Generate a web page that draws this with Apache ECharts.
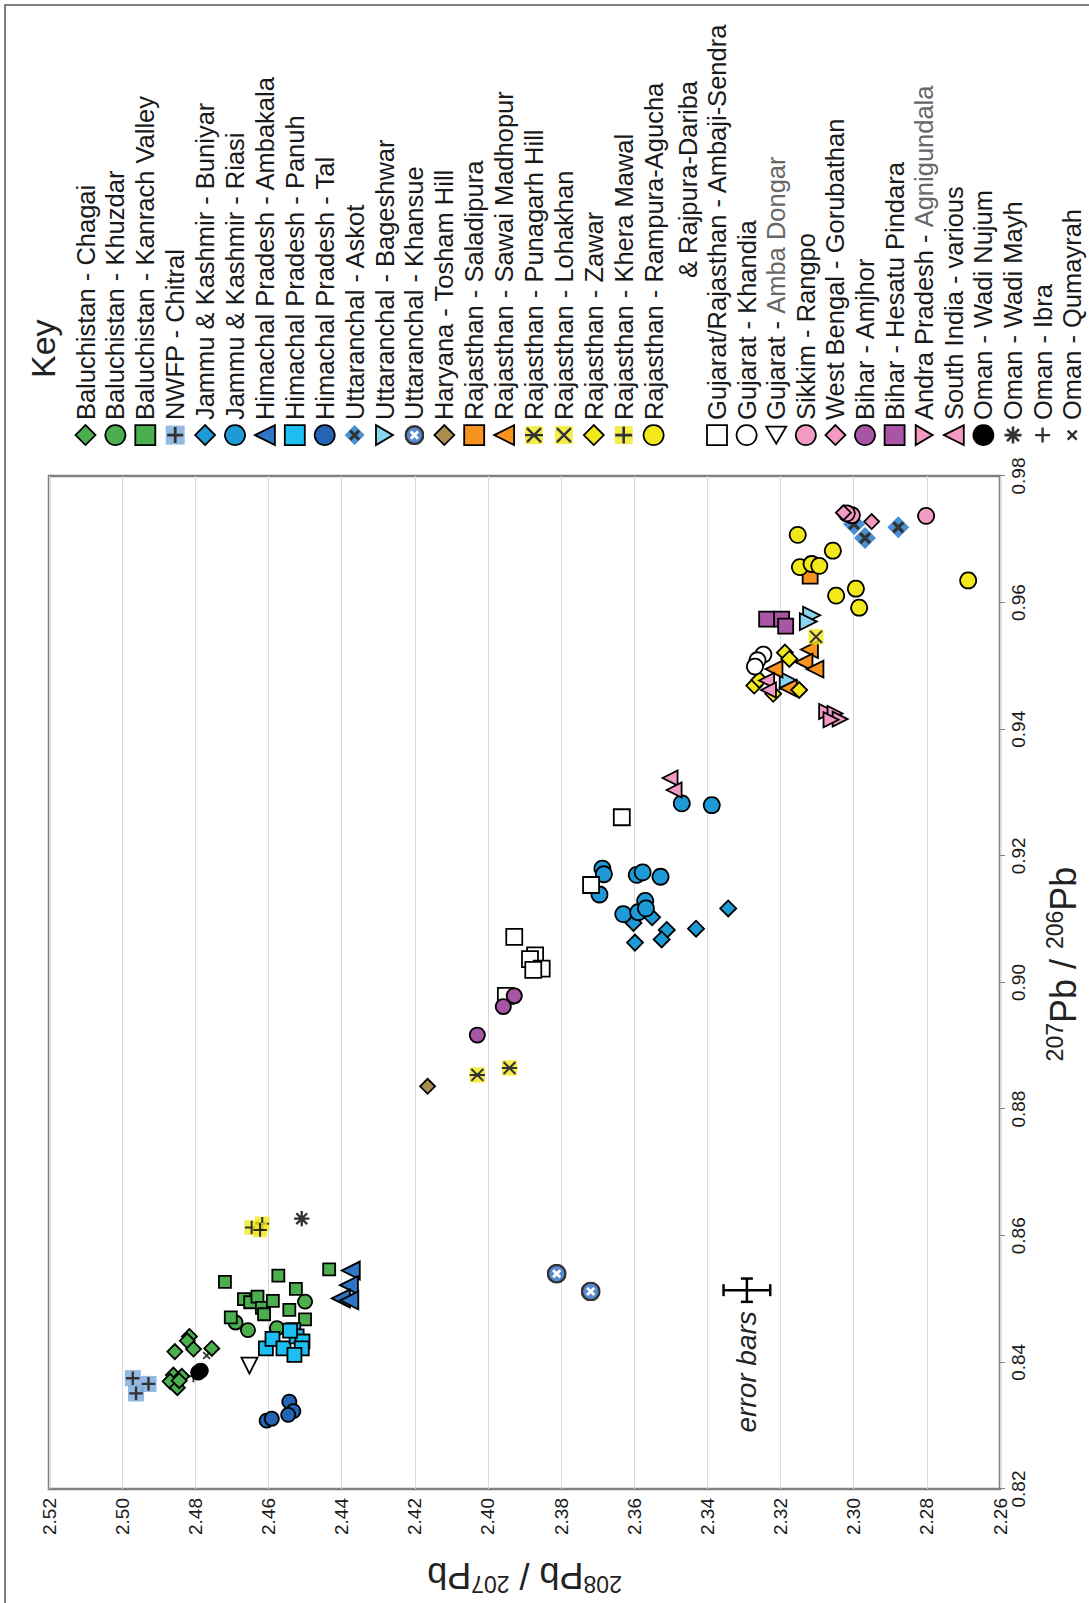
<!DOCTYPE html>
<html><head><meta charset="utf-8">
<script src="https://cdn.jsdelivr.net/npm/echarts@6/dist/echarts.min.js"></script>
<style>
html,body{margin:0;padding:0;background:#fff;overflow:hidden;width:1089px;height:1603px;}
#chart{position:absolute;left:0;top:0;width:1603px;height:1089px;transform-origin:0 0;transform:translateY(1603px) rotate(-90deg);background:#fff;}
</style></head>
<body><div id="chart"></div>
<script>
// ---- DATA: [207Pb/206Pb, 208Pb/207Pb] ----
const chagai = [[0.8441,2.4816],[0.8434,2.4822],[0.8417,2.4856],[0.8421,2.4805],[0.8422,2.4755],[0.8380,2.4860],[0.8378,2.4837],[0.8370,2.4869],[0.8360,2.4849],[0.8371,2.4844]];
const khuzdar = [[0.8496,2.4500],[0.8463,2.4690],[0.8451,2.4656],[0.8454,2.4577]];
const kanrach = [[0.8527,2.4719],[0.8537,2.4573],[0.8547,2.4434],[0.8516,2.4525],[0.8500,2.4667],[0.8495,2.4650],[0.8504,2.4630],[0.8486,2.4618],[0.8497,2.4588],[0.8483,2.4543],[0.8476,2.4612],[0.8468,2.4500],[0.8471,2.4703]];
const chitral = [[0.8375,2.4971],[0.8366,2.4928],[0.8351,2.4962]];
const buniyar = [[0.9094,2.3602],[0.9103,2.3551],[0.9083,2.3511],[0.9068,2.3525],[0.9063,2.3598],[0.9085,2.3431],[0.9117,2.3343]];
const riasi = [[0.9283,2.3470],[0.9280,2.3388],[0.9180,2.3687],[0.9171,2.3683],[0.9139,2.3695],[0.9170,2.3593],[0.9174,2.3577],[0.9167,2.3528],[0.9108,2.3630],[0.9111,2.3589],[0.9129,2.3570],[0.9117,2.3568]];
const ambakala = [[0.8545,2.4375],[0.8522,2.4380],[0.8501,2.4402],[0.8498,2.4379]];
const panuh = [[0.8422,2.4607],[0.8437,2.4589],[0.8422,2.4559],[0.8451,2.4532],[0.8441,2.4523],[0.8433,2.4507],[0.8422,2.4509],[0.8412,2.4529],[0.8450,2.4541]];
const tal = [[0.8338,2.4543],[0.8323,2.4532],[0.8317,2.4546],[0.8308,2.4605],[0.8311,2.4591]];
const askot = [[0.9724,2.2999],[0.9702,2.2969],[0.9719,2.2878]];
const bageshwar = [[0.9580,2.3115],[0.9570,2.3124],[0.9477,2.3179]];
const khansue = [[0.8540,2.3812],[0.8512,2.3719]];
const tosham = [[0.8836,2.4165]];
const saladipura = [[0.9642,2.3119]];
const sawai = [[0.9526,2.3121],[0.9506,2.3136],[0.9495,2.3106],[0.9495,2.3218],[0.9465,2.3179]];
const punagarh = [[0.8854,2.4029],[0.8865,2.3941]];
const lohakhan = [[0.9546,2.3103]];
const zawar = [[0.9521,2.3188],[0.9511,2.3176],[0.9469,2.3272],[0.9462,2.3149],[0.9456,2.3220],[0.9478,2.3258]];
const khera = [[0.8613,2.4646],[0.8619,2.4617],[0.8609,2.4623]];
const rampura = [[0.9707,2.3153],[0.9682,2.3057],[0.9656,2.3147],[0.9661,2.3115],[0.9658,2.3094],[0.9611,2.3048],[0.9622,2.2994],[0.9592,2.2985],[0.9635,2.2687]];
const ambaji = [[0.9261,2.3634],[0.9154,2.3718],[0.9072,2.3928],[0.9043,2.3871],[0.9037,2.3885],[0.9022,2.3853],[0.9020,2.3876],[0.8979,2.3951]];
const khandia = [[0.9518,2.3247],[0.9509,2.3263],[0.9499,2.3270]];
const ambaDongar = [[0.8395,2.4652]];
const rangpo = [[0.9738,2.3005],[0.9737,2.2802],[0.9741,2.3019]];
const gorubathan = [[0.9742,2.3028],[0.9728,2.2951]];
const amjhor = [[0.8979,2.3928],[0.8962,2.3958],[0.8917,2.4029]];
const hesatu = [[0.9574,2.3238],[0.9574,2.3197],[0.9563,2.3186]];
const agnigundala = [[0.9428,2.3074],[0.9425,2.3051],[0.9416,2.3037],[0.9415,2.3062]];
const southIndia = [[0.9323,2.3502],[0.9304,2.3491],[0.9477,2.3238],[0.9462,2.3233]];
const wadiNujum = [[0.8387,2.4785],[0.8384,2.4792]];
const wadiMayh = [[0.8627,2.4509]];
const ibra = [[0.8378,2.4805]];
const qumayrah = [[0.8411,2.4769]];
// error bar: [x, y, x-error, y-error]
const errorBars = [[0.8514,2.3292,0.00184,0.00638]];
const xTicks = {min:0.82, max:0.98, step:0.02};
const yTicks = {min:2.26, max:2.52, step:0.02};

// ---- STYLE ----
const FONT = '"Liberation Sans", Arial, Helvetica, sans-serif';
function img(inner){
  return 'image://data:image/svg+xml;charset=utf-8,' + encodeURIComponent('<svg xmlns="http://www.w3.org/2000/svg" width="40" height="40" viewBox="0 0 20 20">' + inner + '</svg>');
}
const DOWN = 'path://M0,0L20,0L10,17Z';
const LEFT = 'path://M0,10L17,0L17,20Z';
const GREEN='#4bae4f', BLUE='#1e9ad6', ORANGE='#f7931e', YELLOW='#f2e81c', PINK='#f39ac4', PURPLE='#a855a6';
const S_CHITRAL = img('<rect x="0.5" y="0.5" width="19" height="19" fill="#7aa9dc"/><path d="M10,2V18M2,10H18" stroke="#000" stroke-width="2.8"/>');
const S_ASKOT = img('<path d="M10,0L20,10L10,20L0,10Z" fill="#1a75c7"/><path d="M5.5,5.5L14.5,14.5M14.5,5.5L5.5,14.5" stroke="#000" stroke-width="3"/>');
const S_KHANSUE = img('<circle cx="10" cy="10" r="8.8" fill="#2f6ec2" stroke="#000" stroke-width="2.4"/><path d="M6.4,6.4L13.6,13.6M13.6,6.4L6.4,13.6" stroke="#fff" stroke-width="2.8"/>');
const S_PUNAGARH = img('<rect x="1" y="1" width="18" height="18" fill="' + YELLOW + '"/><path d="M3,3L17,17M17,3L3,17M10,1V19" stroke="#000" stroke-width="2.4"/>');
const S_LOHAKHAN = img('<rect x="1" y="1" width="18" height="18" fill="' + YELLOW + '"/><path d="M3,3L17,17M17,3L3,17" stroke="#000" stroke-width="2.4"/>');
const S_KHERA = img('<rect x="1" y="1" width="18" height="18" fill="' + YELLOW + '"/><path d="M10,1.5V18.5M1.5,10H18.5" stroke="#000" stroke-width="2.6"/>');
const S_MAYH = img('<path d="M4,4L16,16M16,4L4,16M10,1.5V18.5M1.5,10H18.5" stroke="#000" stroke-width="2.6"/>');
const S_IBRA = img('<path d="M10,2.5V17.5M2.5,10H17.5" stroke="#000" stroke-width="2.4"/>');
const S_QUM = img('<path d="M5.5,5.5L14.5,14.5M14.5,5.5L5.5,14.5" stroke="#000" stroke-width="2.4"/>');

const sites = [
  {name:'Baluchistan - Chagai', data:chagai, symbol:'diamond', size:15, color:GREEN},
  {name:'Baluchistan - Khuzdar', data:khuzdar, symbol:'circle', size:14, color:GREEN},
  {name:'Baluchistan - Kanrach Valley', data:kanrach, symbol:'rect', size:12, color:GREEN},
  {name:'NWFP - Chitral', data:chitral, symbol:S_CHITRAL, size:17, color:'#7aa9dc', img:true},
  {name:'Jammu & Kashmir - Buniyar', data:buniyar, symbol:'diamond', size:16, color:BLUE},
  {name:'Jammu & Kashmir - Riasi', data:riasi, symbol:'circle', size:16, color:BLUE},
  {name:'Himachal Pradesh - Ambakala', data:ambakala, symbol:'triangle', size:18, color:'#2f75c5'},
  {name:'Himachal Pradesh - Panuh', data:panuh, symbol:'rect', size:14, color:'#1dbff0'},
  {name:'Himachal Pradesh - Tal', data:tal, symbol:'circle', size:14, color:'#2464b4'},
  {name:'Uttaranchal - Askot', data:askot, symbol:S_ASKOT, size:22, color:'#1a75c7', img:true},
  {name:'Uttaranchal - Bageshwar', data:bageshwar, symbol:DOWN, size:17, color:'#8bd4f0'},
  {name:'Uttaranchal - Khansue', data:khansue, symbol:S_KHANSUE, size:20, color:'#2f6ec2', img:true},
  {name:'Haryana - Tosham Hill', data:tosham, symbol:'diamond', size:15, color:'#ab8d52'},
  {name:'Rajasthan - Saladipura', data:saladipura, symbol:'rect', size:15, color:ORANGE},
  {name:'Rajasthan - Sawai Madhopur', data:sawai, symbol:'triangle', size:17, color:ORANGE},
  {name:'Rajasthan - Punagarh Hill', data:punagarh, symbol:S_PUNAGARH, size:17, color:YELLOW, img:true},
  {name:'Rajasthan - Lohakhan', data:lohakhan, symbol:S_LOHAKHAN, size:17, color:YELLOW, img:true},
  {name:'Rajasthan - Zawar', data:zawar, symbol:'diamond', size:16, color:YELLOW},
  {name:'Rajasthan - Khera Mawal', data:khera, symbol:S_KHERA, size:16, color:YELLOW, img:true},
  {name:'Rajasthan - Rampura-Agucha', data:rampura, symbol:'circle', size:16, color:YELLOW},
  {name:'Gujarat/Rajasthan - Ambaji-Sendra', data:ambaji, symbol:'rect', size:16, color:'#ffffff'},
  {name:'Gujarat - Khandia', data:khandia, symbol:'circle', size:16, color:'#ffffff'},
  {name:'Gujarat - Amba Dongar', data:ambaDongar, symbol:LEFT, size:16, color:'#ffffff'},
  {name:'Sikkim - Rangpo', data:rangpo, symbol:'circle', size:16, color:PINK},
  {name:'West Bengal - Gorubathan', data:gorubathan, symbol:'diamond', size:15, color:PINK},
  {name:'Bihar - Amjhor', data:amjhor, symbol:'circle', size:15, color:PURPLE},
  {name:'Bihar - Hesatu Pindara', data:hesatu, symbol:'rect', size:15, color:PURPLE},
  {name:'Andra Pradesh - Agnigundala', data:agnigundala, symbol:DOWN, size:15, color:PINK},
  {name:'South India - various', data:southIndia, symbol:'triangle', size:15, color:PINK},
  {name:'Oman - Wadi Nujum', data:wadiNujum, symbol:'circle', size:14, color:'#000000'},
  {name:'Oman - Wadi Mayh', data:wadiMayh, symbol:S_MAYH, size:18, color:'#000000', img:true},
  {name:'Oman - Ibra', data:ibra, symbol:S_IBRA, size:16, color:'#000000', img:true},
  {name:'Oman - Qumayrah', data:qumayrah, symbol:S_QUM, size:15, color:'#000000', img:true}
];

const series = sites.map(s => ({
  name: s.name, type:'scatter', data: s.data, symbol: s.symbol, symbolSize: s.size,
  itemStyle: s.img ? {color: s.color, borderWidth:0} : {color: s.color, borderColor:'#000', borderWidth:1.8, opacity:1},
  emphasis:{disabled:true}, z: 3
}));
series.push({
  name:'error bars', type:'custom', data: errorBars, silent:true, z:4,
  renderItem: function(params, api){
    const x = api.value(0), y = api.value(1), ex = api.value(2), ey = api.value(3);
    const c = api.coord([x, y]);
    const xl = api.coord([x - ex, y])[0], xr = api.coord([x + ex, y])[0];
    const yt = api.coord([x, y + ey])[1], yb = api.coord([x, y - ey])[1];
    const cap = 6;
    const st = {stroke:'#000', lineWidth:2.5, fill:null};
    return {type:'group', children:[
      {type:'line', shape:{x1:xl,y1:c[1],x2:xr,y2:c[1]}, style:st},
      {type:'line', shape:{x1:xl,y1:c[1]-cap,x2:xl,y2:c[1]+cap}, style:st},
      {type:'line', shape:{x1:xr,y1:c[1]-cap,x2:xr,y2:c[1]+cap}, style:st},
      {type:'line', shape:{x1:c[0],y1:yt,x2:c[0],y2:yb}, style:st},
      {type:'line', shape:{x1:c[0]-cap,y1:yt,x2:c[0]+cap,y2:yt}, style:st},
      {type:'line', shape:{x1:c[0]-cap,y1:yb,x2:c[0]+cap,y2:yb}, style:st},
      {type:'text', x:c[0]-21, y:c[1], style:{text:'error bars', fontSize:28, fontStyle:'italic', fontFamily:FONT, fill:'#222', align:'right', verticalAlign:'middle'}}
    ]};
  }
});

const legendNames = sites.map(s => ({name: s.name, icon: s.symbol}));
const richLegend = {
  a:{fontSize:25.5, lineHeight:20, color:'#1a1a1a', fontFamily:FONT},
  g:{fontSize:25.5, lineHeight:20, color:'#666666', fontFamily:FONT}
};
function legendFmt(name){
  if (name === 'Gujarat - Amba Dongar') return '{a|Gujarat - }{g|Amba Dongar}';
  if (name === 'Andra Pradesh - Agnigundala') return '{a|Andra Pradesh - }{g|Agnigundala}';
  return '{a|' + name + '}';
}
const legendBase = {
  orient:'vertical', left:1157, itemWidth:20, itemHeight:20, selectedMode:false,
  formatter: legendFmt, padding:0,
  textStyle:{fontSize:25.5, lineHeight:20, color:'#1a1a1a', fontFamily:FONT, rich: richLegend},
  itemStyle:{borderWidth:'inherit'}
};

const supRich = {
  s:{fontSize:23, verticalAlign:'top', lineHeight:23, color:'#222', fontFamily:FONT},
  m:{fontSize:36, lineHeight:40, color:'#222', fontFamily:FONT}
};

const chart = echarts.init(document.getElementById('chart'), null, {renderer:'svg', width:1603, height:1089});
chart.setOption({
  animation:false,
  backgroundColor:'#ffffff',
  textStyle:{fontFamily:FONT},
  grid:{left:112, top:49, width:1015, height:951, show:true, borderColor:'#808080', borderWidth:2.5, backgroundColor:'transparent', containLabel:false},
  xAxis:{
    type:'value', min:xTicks.min, max:xTicks.max, interval:xTicks.step,
    axisLine:{show:false}, splitLine:{show:false},
    axisTick:{show:true, length:5, lineStyle:{color:'#808080', width:1}},
    axisLabel:{fontSize:19, color:'#1a1a1a', margin:9, formatter: v => v.toFixed(2), fontFamily:FONT},
    name:'{s|207}{m|Pb / }{s|206}{m|Pb}', nameLocation:'middle', nameGap:43,
    nameTextStyle:{rich:supRich, padding:[0,0,0,37]}
  },
  yAxis:{
    type:'value', min:yTicks.min, max:yTicks.max, interval:yTicks.step,
    axisLine:{show:false},
    splitLine:{show:true, lineStyle:{color:'#d9d9d9', width:1}},
    axisTick:{show:false},
    axisLabel:{fontSize:19, color:'#1a1a1a', margin:9, formatter: v => v.toFixed(2), fontFamily:FONT},
    name:'{s|208}{m|Pb / }{s|207}{m|Pb}', nameLocation:'middle', nameGap:66, nameRotate:90,
    nameTextStyle:{rich:supRich}
  },
  legend:[
    Object.assign({}, legendBase, {top:72.5, itemGap:3.9, data: legendNames.slice(0,20)}),
    Object.assign({}, legendBase, {top:704, itemGap:3.6, data: legendNames.slice(20)})
  ],
  graphic:[
    {type:'rect', silent:true, shape:{x:-10, y:5, width:1608, height:1110}, style:{fill:null, stroke:'#555', lineWidth:1.5}},
    {type:'text', silent:true, x:1225, y:43, style:{text:'Key', fontSize:34, fontFamily:FONT, fill:'#222', verticalAlign:'middle'}},
    {type:'text', silent:true, x:1325, y:688, style:{text:'& Rajpura-Dariba', fontSize:25.5, fontFamily:FONT, fill:'#1a1a1a', verticalAlign:'middle'}}
  ],
  series: series
});
</script>
</body></html>
